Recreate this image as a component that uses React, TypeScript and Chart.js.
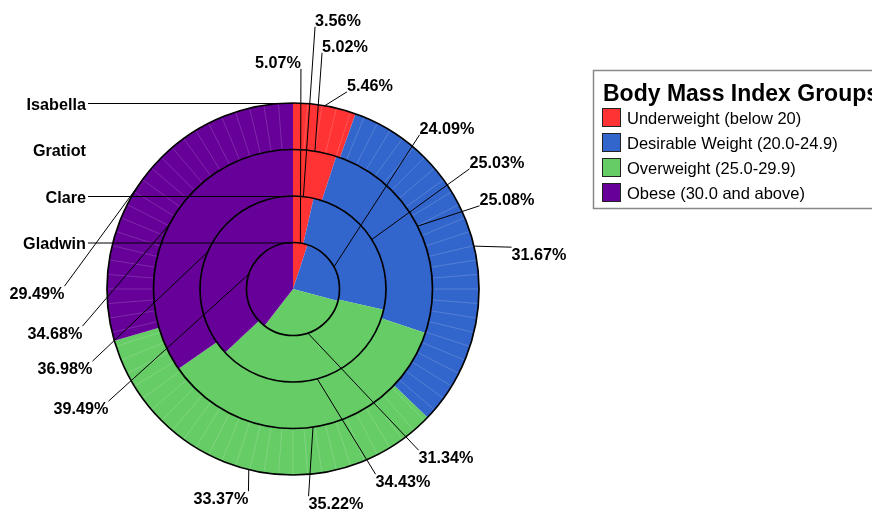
import { useEffect, useRef } from "react";
import { Chart, ArcElement, DoughnutController } from "chart.js";

Chart.register(ArcElement, DoughnutController);

// ---- data ----
const ringNames = ["Isabella", "Gratiot", "Clare", "Gladwin"];
const groupLabels = [
  "Underweight (below 20)",
  "Desirable Weight (20.0-24.9)",
  "Overweight (25.0-29.9)",
  "Obese (30.0 and above)",
];
const legendTitle = "Body Mass Index Groups";
const isabellaPct = [5.46, 31.67, 33.37, 29.49];
const gratiotPct = [5.02, 25.08, 35.22, 34.68];
const clarePct = [3.56, 25.03, 34.43, 36.98];
const gladwinPct = [5.07, 24.09, 31.34, 39.49];
const ringValues = [isabellaPct, gratiotPct, clarePct, gladwinPct];

// ---- styles / layout ----
const groupColors = ["#FF3333", "#3366CC", "#66CC66", "#660099"];
const ringNameLeader = [true, false, true, true];
// label text centres, offset from the pie centre, per ring / per group
const labelOffsets: number[][][] = [
  [[77, -204], [246, -35], [-72, 209], [-256, 4]],
  [[52, -243], [214, -90], [43, 214], [-238, 44]],
  [[45, -269], [204, -127], [110, 192], [-228, 79]],
  [[-15, -227], [154, -161], [153, 168], [-212, 119]],
];
const labelFont = "bold 16.2px 'Liberation Sans', Arial, sans-serif";
const CAP = 11.6;
const FACET_STEP = (4.5 * Math.PI) / 180;

const overlayPlugin = {
  id: "overlay",
  afterDatasetsDraw(chart: any) {
    const ctx: CanvasRenderingContext2D = chart.ctx;
    const first = chart.getDatasetMeta(0).data[0];
    const cx = first.x;
    const cy = first.y;
    ctx.save();

    // faint facet lines in the outer ring
    ctx.strokeStyle = "rgba(255,255,255,0.16)";
    ctx.lineWidth = 1;
    const n = Math.round((Math.PI * 2) / FACET_STEP);
    for (let k = 1; k < n; k++) {
      const a = -Math.PI / 2 + k * FACET_STEP;
      ctx.beginPath();
      ctx.moveTo(cx + Math.cos(a) * first.innerRadius, cy + Math.sin(a) * first.innerRadius);
      ctx.lineTo(cx + Math.cos(a) * first.outerRadius, cy + Math.sin(a) * first.outerRadius);
      ctx.stroke();
    }

    // ring outlines
    ctx.strokeStyle = "#000";
    ctx.lineWidth = 1.7;
    chart.data.datasets.forEach((_: any, di: number) => {
      const arc = chart.getDatasetMeta(di).data[0];
      ctx.beginPath();
      ctx.arc(cx, cy, arc.outerRadius, 0, Math.PI * 2);
      ctx.stroke();
    });

    // percentage labels with leader lines
    ctx.font = labelFont;
    ctx.fillStyle = "#000";
    ctx.textBaseline = "alphabetic";
    ctx.textAlign = "left";
    chart.data.datasets.forEach((ds: any, di: number) => {
      const meta = chart.getDatasetMeta(di);
      meta.data.forEach((arc: any, i: number) => {
        const mid = (arc.startAngle + arc.endAngle) / 2;
        const tx = cx + Math.cos(mid) * arc.outerRadius;
        const ty = cy + Math.sin(mid) * arc.outerRadius;
        const txt = ds.data[i].toFixed(2) + "%";
        const w = ctx.measureText(txt).width;
        const [ox, oy] = labelOffsets[di][i];
        const left = cx + ox - w / 2;
        const right = left + w;
        const base = cy + oy + CAP / 2;
        const top = base - CAP;
        const sx = Math.abs(tx - left) < Math.abs(tx - right) ? left : right;
        const sy = Math.abs(ty - top) < Math.abs(ty - base) ? top - 1 : base + 1;
        ctx.strokeStyle = "#000";
        ctx.lineWidth = 1;
        ctx.beginPath();
        ctx.moveTo(sx, sy);
        ctx.lineTo(tx, ty);
        ctx.stroke();
        ctx.fillText(txt, left, base);
      });
    });

    // ring names
    ctx.textAlign = "right";
    chart.data.datasets.forEach((ds: any, di: number) => {
      const arc = chart.getDatasetMeta(di).data[0];
      const y = cy - arc.outerRadius;
      ctx.fillText(ds.label, cx - 207, y + 1 + CAP / 2);
      if (ringNameLeader[di]) {
        ctx.beginPath();
        ctx.moveTo(cx - 205, y + 0.5);
        ctx.lineTo(cx, y + 0.5);
        ctx.stroke();
      }
    });

    // legend
    const lx = 593.5;
    const ly = 70.5;
    ctx.strokeStyle = "#888";
    ctx.lineWidth = 1.5;
    ctx.strokeRect(lx, ly, 300, 138);
    ctx.textAlign = "left";
    ctx.font = "bold 23px 'Liberation Sans', Arial, sans-serif";
    ctx.fillStyle = "#000";
    ctx.fillText(legendTitle, 603, 101);
    ctx.font = "16.5px 'Liberation Sans', Arial, sans-serif";
    chart.data.labels.forEach((lab: string, i: number) => {
      const rowTop = 108 + i * 25;
      ctx.fillStyle = groupColors[i];
      ctx.fillRect(602.5, rowTop + 0.5, 18, 18);
      ctx.strokeStyle = "#222";
      ctx.lineWidth = 1;
      ctx.strokeRect(602.5, rowTop + 0.5, 18, 18);
      ctx.fillStyle = "#000";
      ctx.fillText(lab, 627, rowTop + 16);
    });

    ctx.restore();
  },
};

export default function App() {
  const ref = useRef<HTMLCanvasElement>(null);
  useEffect(() => {
    if (!ref.current) return;
    const chart = new Chart(ref.current, {
      type: "doughnut",
      data: {
        labels: groupLabels,
        datasets: ringValues.map((vals, i) => ({
          label: ringNames[i],
          data: vals,
          backgroundColor: groupColors,
          borderWidth: 0,
          hoverOffset: 0,
          offset: 0,
        })),
      },
      options: {
        animation: false,
        responsive: false,
        cutout: 0,
        rotation: 0,
        events: [],
        layout: { padding: { left: 107, right: 393, top: 103, bottom: 38 } },
        plugins: { legend: { display: false }, tooltip: { enabled: false } } as any,
      },
      plugins: [overlayPlugin],
    });
    return () => chart.destroy();
  }, []);
  return (
    <div style={{ position: "absolute", left: 0, top: 0, width: 872, height: 513, background: "#fff" }}>
      <canvas ref={ref} width={872} height={513} style={{ width: 872, height: 513, display: "block" }} />
    </div>
  );
}
